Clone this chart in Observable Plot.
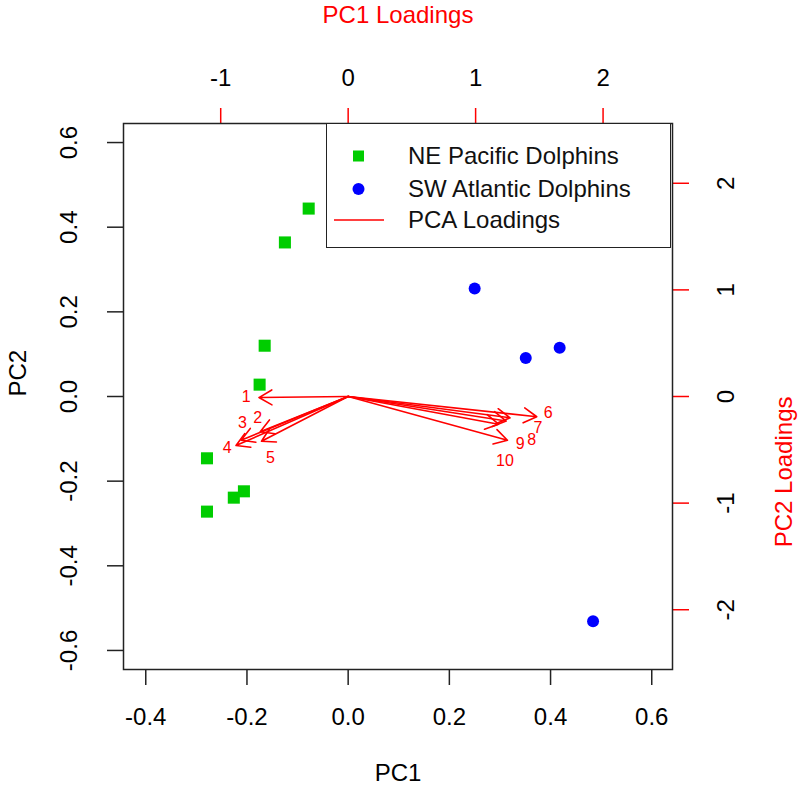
<!DOCTYPE html>
<html>
<head>
<meta charset="utf-8">
<script src="https://cdn.jsdelivr.net/npm/d3@7"></script>
<script src="https://cdn.jsdelivr.net/npm/@observablehq/plot@0.6"></script>
<style>
  html, body { margin: 0; padding: 0; background: #fff; }
  #wrap { position: relative; width: 800px; height: 793px; font-family: "Liberation Sans", Arial, sans-serif; }
  #legend { position: absolute; left: 326px; top: 123px; width: 345px; height: 125px;
            border: 1.5px solid #222; background: #fff; box-sizing: border-box; }
  .row { position: absolute; left: 0; height: 30px; display: flex; align-items: center; font-size: 24px; color: #111; }
  .row svg { width: 80px; height: 30px; }
</style>
</head>
<body>
<div id="wrap"></div>
<script>
// ---- data ----
const pacificPC1 = [-0.078, -0.125, -0.165, -0.175, -0.279, -0.206, -0.226, -0.279];
const pacificPC2 = [ 0.444,  0.364,  0.120,  0.028, -0.146, -0.224, -0.239, -0.272];
const atlanticPC1 = [0.250, 0.351, 0.418, 0.484];
const atlanticPC2 = [0.255, 0.091, 0.115, -0.531];

const loadingNames = ["1","2","3","4","5","6","7","8","9","10"];
const loadingPC1 = [-0.70, -0.69, -0.84, -0.88, -0.68, 1.48, 1.27, 1.24, 1.18, 1.25];
const loadingPC2 = [-0.01, -0.33, -0.41, -0.46, -0.42, -0.19, -0.20, -0.23, -0.26, -0.41];
const labelPC1   = [-0.80, -0.71, -0.83, -0.95, -0.61, 1.57, 1.49, 1.44, 1.35, 1.23];
const labelPC2   = [ 0.00, -0.20, -0.25, -0.48, -0.58, -0.15, -0.29, -0.41, -0.44, -0.60];

const scoreTicksX = [-0.4, -0.2, 0.0, 0.2, 0.4, 0.6];
const scoreTicksY = [-0.6, -0.4, -0.2, 0.0, 0.2, 0.4, 0.6];
const loadTicksX = [-1, 0, 1, 2];
const loadTicksY = [-2, -1, 0, 1, 2];

const ratio = 3.97; // loadings-axis units per score unit
const xDomain = [-0.444, 0.641];
const yDomain = [-0.645, 0.645];

// ---- build tables ----
const pacific = pacificPC1.map((x, i) => ({x, y: pacificPC2[i]}));
const atlantic = atlanticPC1.map((x, i) => ({x, y: atlanticPC2[i]}));
const loadings = loadingNames.map((n, i) => ({
  name: n, lx: loadingPC1[i], ly: loadingPC2[i], tx: labelPC1[i], ty: labelPC2[i]
}));

const FONT = 24;
const green = "#00CD00";

const plot = Plot.plot({
  width: 800,
  height: 793,
  marginLeft: 123,
  marginRight: 128,
  marginTop: 123,
  marginBottom: 124,
  style: {fontFamily: "Liberation Sans, Arial, sans-serif", fontSize: FONT + "px", background: "white"},
  x: {domain: xDomain, axis: null},
  y: {domain: yDomain, axis: null},
  marks: [
    // bottom axis
    Plot.axisX({anchor: "bottom", ticks: scoreTicksX, tickSize: 16, tickPadding: 22,
      tickFormat: d => d.toFixed(1), label: null, fontSize: FONT, stroke: "#222", fill: "black", strokeWidth: 1.5}),
    // top axis (loadings, red ticks)
    Plot.axisX({anchor: "top", ticks: loadTicksX.map(v => v / ratio), tickSize: 16, tickPadding: 22,
      tickFormat: d => String(Math.round(d * ratio)), label: null, fontSize: FONT, stroke: "red", fill: "black", strokeWidth: 1.5}),
    // left axis ticks
    Plot.axisY({anchor: "left", ticks: scoreTicksY, tickSize: 16, tickFormat: () => "", label: null, stroke: "#222", strokeWidth: 1.5}),
    // right axis ticks (red)
    Plot.axisY({anchor: "right", ticks: loadTicksY.map(v => v / ratio), tickSize: 16, tickFormat: () => "", label: null, stroke: "red", strokeWidth: 1.5}),
    // rotated tick labels
    Plot.text(scoreTicksY, {y: d => d, text: d => d.toFixed(1), frameAnchor: "left", dx: -54, rotate: -90,
      textAnchor: "middle", lineAnchor: "middle", fontSize: FONT, fill: "black"}),
    Plot.text(loadTicksY, {y: d => d / ratio, text: d => String(d), frameAnchor: "right", dx: 54, rotate: -90,
      textAnchor: "middle", lineAnchor: "middle", fontSize: FONT, fill: "black"}),
    // axis titles
    Plot.text(["PC1"], {frameAnchor: "bottom", dy: 104, text: d => d, lineAnchor: "middle", fontSize: FONT, fill: "black"}),
    Plot.text(["PC1 Loadings"], {frameAnchor: "top", dy: -108, text: d => d, lineAnchor: "middle", fontSize: FONT, fill: "red"}),
    Plot.text(["PC2"], {frameAnchor: "left", dx: -105, rotate: -90, text: d => d, lineAnchor: "middle", fontSize: FONT, fill: "black"}),
    Plot.text(["PC2 Loadings"], {frameAnchor: "right", dx: 112, rotate: -90, text: d => d, lineAnchor: "middle", fontSize: FONT, fill: "red"}),
    // points
    Plot.dot(pacific, {x: "x", y: "y", symbol: "square", r: 6.8, fill: green, stroke: "none"}),
    Plot.dot(atlantic, {x: "x", y: "y", symbol: "circle", r: 6, fill: "blue", stroke: "none"}),
    // loading arrows
    Plot.arrow(loadings, {x1: () => 0, y1: () => 0, x2: d => d.lx / ratio, y2: d => d.ly / ratio,
      stroke: "red", strokeWidth: 1.6, headLength: 14, headAngle: 60}),
    Plot.text(loadings, {x: d => d.tx / ratio, y: d => d.ty / ratio, text: "name", fill: "red", fontSize: 16}),
    // box
    Plot.frame({stroke: "#222", strokeWidth: 1.5})
  ]
});

const wrap = document.getElementById("wrap");
wrap.appendChild(plot);

// legend (inside plot box, top-right)
const legend = document.createElement("div");
legend.id = "legend";
legend.innerHTML = `
  <div class="row" style="top:17px"><svg><rect x="26" y="9.5" width="11" height="11" fill="${green}"/></svg><span style="margin-left:1px">NE Pacific Dolphins</span></div>
  <div class="row" style="top:50px"><svg><circle cx="31.5" cy="15" r="6" fill="blue"/></svg><span style="margin-left:1px">SW Atlantic Dolphins</span></div>
  <div class="row" style="top:81px"><svg><line x1="7" x2="57" y1="15" y2="15" stroke="red" stroke-width="1.5"/></svg><span style="margin-left:1px">PCA Loadings</span></div>`;
wrap.appendChild(legend);
</script>
</body>
</html>
